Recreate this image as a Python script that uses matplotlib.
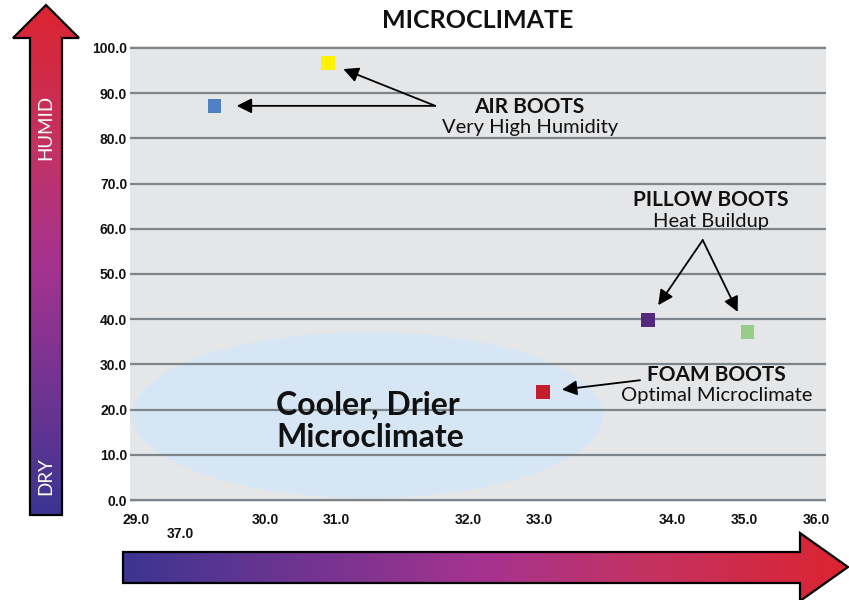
"""
Microclimate scatter: boot types by temperature and humidity
"""

# ==========================================================
# IMPORTS
# ==========================================================

import numpy as np
import matplotlib
matplotlib.use("Agg")
import matplotlib.pyplot as plt
from matplotlib.patches import Ellipse, Polygon
from matplotlib.colors import LinearSegmentedColormap

# ==========================================================
# DATA
# ==========================================================

BOOTS = ["Air (yellow)", "Air (blue)", "Pillow (purple)", "Pillow (green)", "Foam"]
TEMP = [30.99, 29.85, 34.21, 35.21, 33.15]
HUMIDITY = [96.7, 87.2, 39.8, 37.2, 23.9]
COLORS = ["#fff200", "#4f81c4", "#54287f", "#98cd87", "#c21e2e"]

Y_TICKS = [0, 10, 20, 30, 40, 50, 60, 70, 80, 90, 100]
X_TICK_POS = [29.06, 30.36, 31.08, 32.40, 33.12, 34.45, 35.18, 35.90]
X_TICK_LABELS = ["29.0", "30.0", "31.0", "32.0", "33.0", "34.0", "35.0", "36.0"]

FONT = ["Lato", "DejaVu Sans"]
TICK_FONT = ["Liberation Sans", "DejaVu Sans"]

# ==========================================================
# FIGURE
# ==========================================================

W, H = 849, 600
fig = plt.figure(figsize=(W / 100, H / 100), dpi=100)

# decoration layer in pixel coordinates (gradient arrows)
deco = fig.add_axes([0, 0, 1, 1], zorder=0)
deco.set_xlim(0, W)
deco.set_ylim(H, 0)
deco.axis("off")

cmap = LinearSegmentedColormap.from_list(
    "dry_humid",
    [(0.0, "#3c3592"), (0.5, "#a6338f"), (0.72, "#c33262"), (1.0, "#dc2430")]
)


def gradient_arrow(points, extent, vertical):

    grad = np.linspace(0, 1, 256)

    if vertical:
        img = grad[::-1].reshape(-1, 1)
    else:
        img = grad.reshape(1, -1)

    poly = Polygon(points, closed=True, facecolor="none",
                   edgecolor="black", lw=1.6, zorder=3)
    deco.add_patch(poly)

    im = deco.imshow(img, cmap=cmap, aspect="auto",
                     extent=extent, zorder=2)
    im.set_clip_path(poly)


# vertical arrow (dry -> humid)
gradient_arrow(
    [(30, 515), (62, 515), (62, 38), (79, 38), (46, 5), (13, 38), (30, 38)],
    (13, 79, 515, 5),
    vertical=True
)

# horizontal arrow (cool -> warm)
gradient_arrow(
    [(123, 552), (800, 552), (800, 533), (848, 567), (800, 601), (800, 583), (123, 583)],
    (123, 848, 601, 533),
    vertical=False
)

deco.text(46, 127, "HUMID", color="white", rotation=90, ha="center",
          va="center", fontsize=13.5, family=FONT, zorder=4)
deco.text(46, 476, "DRY", color="white", rotation=90, ha="center",
          va="center", fontsize=13.5, family=FONT, zorder=4)

# ==========================================================
# MAIN AXES
# ==========================================================

ax = fig.add_axes([130 / W, (H - 502) / H, 696 / W, 456 / H], zorder=1)
ax.set_facecolor("#e5e6e8")

ax.set_xlim(29, 36)
ax.set_ylim(-0.44, 100.44)

for side in ["top", "right", "bottom", "left"]:
    ax.spines[side].set_visible(False)

ax.set_axisbelow(True)
ax.yaxis.grid(True, color="#7d858b", lw=1.6)
ax.xaxis.grid(False)

ax.set_yticks(Y_TICKS)
ax.set_yticklabels([f"{v:.1f}" for v in Y_TICKS])
ax.set_xticks(X_TICK_POS)
ax.set_xticklabels(X_TICK_LABELS)

ax.tick_params(axis="y", length=0, pad=2, labelsize=10, colors="#111111")
ax.tick_params(axis="x", length=0, pad=8, labelsize=10, colors="#111111")

for label in ax.get_xticklabels() + ax.get_yticklabels():
    label.set_family(TICK_FONT)
    label.set_fontweight("bold")

# cooler, drier zone
ax.add_patch(
    Ellipse((31.39, 18.8), 4.74, 36.7, facecolor="#d6e6f4",
            edgecolor="none", zorder=0.2)
)

ax.text(30.47, 17.4, "Cooler, Drier\nMicroclimate", ha="left", va="center",
        fontsize=23, fontweight="bold", family=FONT, linespacing=1.15,
        color="#111111", zorder=3)

# points
ax.scatter(TEMP, HUMIDITY, s=100, marker="s", c=COLORS,
           edgecolors="none", zorder=4)

# ==========================================================
# ANNOTATIONS
# ==========================================================

ARROW = dict(arrowstyle="-|>,head_length=0.9,head_width=0.45",
             color="black", lw=1.3, mutation_scale=10, shrinkA=0)

# air boots
for i, shrink in [(0, 12), (1, 16)]:
    ax.annotate("", xy=(TEMP[i], HUMIDITY[i]), xytext=(32.07, 87.2),
                arrowprops=dict(ARROW, shrinkB=shrink), zorder=5)

# pillow boots
for i, shrink in [(2, 13), (3, 16)]:
    ax.annotate("", xy=(TEMP[i], HUMIDITY[i]), xytext=(34.76, 57.5),
                arrowprops=dict(ARROW, shrinkB=shrink), zorder=5)

# foam boots
ax.annotate("", xy=(TEMP[4], HUMIDITY[4]), xytext=(34.13, 26.5),
            arrowprops=dict(ARROW, shrinkB=14), zorder=5)

LABELS = [
    (33.02, 85.7, 81.2, "AIR BOOTS", "Very High Humidity"),
    (34.84, 65.1, 60.3, "PILLOW BOOTS", "Heat Buildup"),
    (34.90, 26.4, 21.9, "FOAM BOOTS", "Optimal Microclimate"),
]

for x, y_head, y_sub, head, sub in LABELS:

    ax.text(x, y_head, head, ha="center", va="baseline", fontsize=15,
            fontweight="bold", family=FONT, color="#111111", zorder=6)

    ax.text(x, y_sub, sub, ha="center", va="baseline", fontsize=14.5,
            fontweight="normal", family=FONT, color="#111111", zorder=6)

# ==========================================================
# TITLE AND STRAY LABEL
# ==========================================================

fig.text(478 / W, 1 - 21 / H, "MICROCLIMATE", ha="center", va="center",
         fontsize=18, fontweight="bold", family=FONT, color="#111111")

fig.text(180 / W, 1 - 534 / H, "37.0", ha="center", va="center",
         fontsize=10, fontweight="bold", family=TICK_FONT, color="#111111")

# ==========================================================
# SAVE
# ==========================================================

fig.savefig("out.png", dpi=100)
plt.close(fig)
